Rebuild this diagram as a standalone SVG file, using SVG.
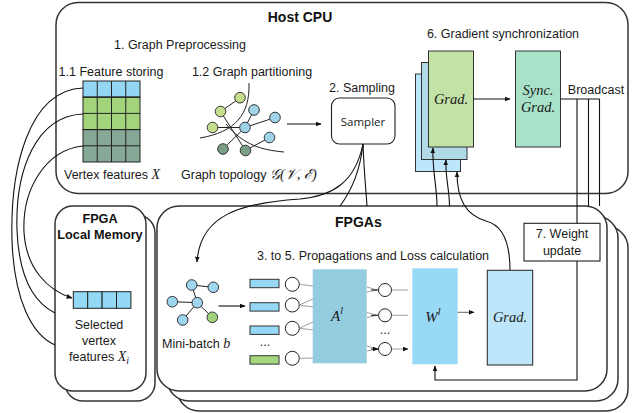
<svg xmlns="http://www.w3.org/2000/svg" width="640" height="413" viewBox="0 0 640 413">
  <defs>
    <marker id="ah" viewBox="0 0 10 10" refX="9" refY="5" markerWidth="6" markerHeight="6" orient="auto" markerUnits="userSpaceOnUse">
      <path d="M0,1 L10,5 L0,9 z" fill="#111"/>
    </marker>
    <style>
      .frame{fill:#fff;stroke:#333;stroke-width:1.5}
      .t{font-family:"Liberation Sans",Arial,sans-serif;font-size:12.5px;fill:#1a1a1a}
      .b{font-family:"Liberation Sans",Arial,sans-serif;font-weight:bold;fill:#111}
      .m{font-family:"Liberation Serif","DejaVu Serif",serif;font-style:italic;fill:#1a1a1a}
      .ln{fill:none;stroke:#111;stroke-width:1.1}
      .thin{fill:none;stroke:#888;stroke-width:0.8}
      .cell{stroke:#222;stroke-width:1}
      .nd{stroke:#333;stroke-width:1}
      .e{stroke:#222;stroke-width:1;fill:none}
    </style>
  </defs>

  <!-- Host CPU frame -->
  <g id="host-cpu">
    <rect class="frame" x="56" y="2.5" width="572" height="191" rx="22"/>
    <text class="b" x="300" y="22" font-size="14" text-anchor="middle">Host CPU</text>
    <text class="t" x="180" y="49" text-anchor="middle">1. Graph Preprocessing</text>
  </g>

  <!-- broadcast lines running down to the rear FPGA boards -->
  <g id="broadcast-rear" class="ln">
    <path d="M588.5,99 V206"/>
    <path d="M599.5,99 V206"/>
  </g>

  <!-- FPGA local memory stack -->
  <g id="local-memory">
    <rect class="frame" x="65" y="215" width="90" height="186" rx="18"/>
    <rect class="frame" x="55" y="206" width="91" height="185" rx="18"/>
    <text class="b" x="100" y="223" font-size="12.7" text-anchor="middle">FPGA</text>
    <text class="b" x="100" y="239" font-size="12.7" text-anchor="middle">Local Memory</text>
  </g>

  <!-- FPGA board stack -->
  <g id="fpgas">
    <rect class="frame" x="177" y="226" width="451" height="185" rx="22"/>
    <rect class="frame" x="167" y="216" width="451" height="185" rx="22"/>
    <rect class="frame" x="157" y="206" width="450" height="185" rx="22"/>
    <text class="b" x="335" y="227" font-size="14">FPGAs</text>
    <text class="t" x="373" y="260" text-anchor="middle">3. to 5. Propagations and Loss calculation</text>
  </g>

  <!-- 1.1 feature storing -->
  <g id="feature-storing">
    <text class="t" x="111" y="76" text-anchor="middle">1.1 Feature storing</text>
    <g class="cell">
      <rect x="83" y="81" width="57" height="16.2" fill="#93d6f3"/>
      <rect x="83" y="97.2" width="57" height="32.4" fill="#a3d47c"/>
      <rect x="83" y="129.6" width="57" height="32.4" fill="#86a896"/>
      <path d="M97.25,81 V162 M111.5,81 V162 M125.75,81 V162 M83,97.2 H140 M83,113.4 H140 M83,129.6 H140 M83,145.8 H140" fill="none"/>
    </g>
    <text class="t" x="64" y="179">Vertex features <tspan class="m" font-size="14">X</tspan></text>
  </g>

  <!-- 1.2 graph partitioning -->
  <g id="graph-partitioning">
    <text class="t" x="252" y="76" text-anchor="middle">1.2 Graph partitioning</text>
    <path class="e" d="M240,98 L220.5,111.5 M220.5,111.5 L245.5,150.5 M212.5,127.5 L245,127.5 M245,127.5 L254,110 M245,127.5 L275,117.5 M245,127.5 L223,149 M269.5,137.5 L245.5,150.5"/>
    <path class="e" d="M249,83 C250,115 235,132 200,138"/>
    <path class="e" d="M226,124 C243,145 262,150 284,152"/>
    <g class="nd">
      <circle cx="240" cy="97.7" r="5.3" fill="#c5df8e"/>
      <circle cx="220.5" cy="111.5" r="5.3" fill="#c5df8e"/>
      <circle cx="212.5" cy="127.5" r="5.3" fill="#c5df8e"/>
      <circle cx="254" cy="110" r="5.3" fill="#9ed3e8"/>
      <circle cx="275" cy="117.5" r="5.3" fill="#9ed3e8"/>
      <circle cx="245" cy="127.5" r="5.3" fill="#9ed3e8"/>
      <circle cx="269.5" cy="137.5" r="5.3" fill="#9ed3e8"/>
      <circle cx="223" cy="149" r="5.3" fill="#7a9e86"/>
      <circle cx="245.5" cy="150.5" r="5.3" fill="#7a9e86"/>
    </g>
    <text class="t" x="181" y="179">Graph topology <tspan class="m" font-size="14.5">𝒢(𝒱, ℰ)</tspan></text>
  </g>

  <!-- 2. sampling -->
  <g id="sampler">
    <text class="t" x="362" y="92" text-anchor="middle">2. Sampling</text>
    <rect x="331.5" y="98" width="63.5" height="46" rx="8" fill="#fff" stroke="#222" stroke-width="1.1"/>
    <text x="363" y="126" font-family="'Open Sans','Liberation Sans',sans-serif" font-size="11.5" fill="#1a1a1a" text-anchor="middle">Sampler</text>
  </g>

  <!-- 6. gradient synchronization -->
  <g id="gradient-stack">
    <text class="t" x="503" y="38" text-anchor="middle">6. Gradient synchronization</text>
    <rect x="415.5" y="74" width="45" height="97.5" fill="#bde6fb" stroke="#333" stroke-width="1"/>
    <rect x="421.5" y="62.5" width="45.5" height="97" fill="#b0dbe6" stroke="#333" stroke-width="1"/>
    <rect x="428.5" y="51" width="45" height="96" fill="#c3e2a6" stroke="#333" stroke-width="1"/>
    <text class="m" x="451" y="104" font-size="14.5" text-anchor="middle">Grad.</text>
  </g>
  <g id="sync-grad">
    <rect x="515.5" y="51" width="45" height="96" fill="#a8e2c8" stroke="#333" stroke-width="1"/>
    <text class="m" x="538" y="95" font-size="14.5" text-anchor="middle">Sync.</text>
    <text class="m" x="538" y="112" font-size="14.5" text-anchor="middle">Grad.</text>
    <text class="t" x="596" y="94" text-anchor="middle">Broadcast</text>
  </g>

  <!-- selected vertex features in local memory -->
  <g id="selected-features">
    <g class="cell" fill="#93d8f5">
      <rect x="73.3" y="291.7" width="14.4" height="16.6"/>
      <rect x="87.7" y="291.7" width="14.4" height="16.6"/>
      <rect x="102.1" y="291.7" width="14.4" height="16.6"/>
      <rect x="116.5" y="291.7" width="14.4" height="16.6"/>
    </g>
    <text class="t" x="99" y="329" text-anchor="middle">Selected</text>
    <text class="t" x="99" y="345" text-anchor="middle">vertex</text>
    <text class="t" x="99" y="361" text-anchor="middle">features <tspan class="m" font-size="14">X</tspan><tspan class="m" font-size="10" dy="3">i</tspan></text>
  </g>

  <!-- mini-batch -->
  <g id="mini-batch">
    <path class="e" d="M191.7,285 L213.3,287.3 M191.7,285 L197.3,302.7 M172.3,301.7 L197.3,302.7 M197.3,302.7 L182.7,320 M197.3,302.7 L212.3,317.3"/>
    <g class="nd">
      <circle cx="191.7" cy="285" r="5.3" fill="#9ed6f0"/>
      <circle cx="213.3" cy="287.3" r="5.3" fill="#9ed6f0"/>
      <circle cx="172.3" cy="301.7" r="5.3" fill="#9ed6f0"/>
      <circle cx="197.3" cy="302.7" r="5.3" fill="#9ed6f0"/>
      <circle cx="182.7" cy="320" r="5.3" fill="#9ed6f0"/>
      <circle cx="212.3" cy="317.3" r="5.3" fill="#9fd27a"/>
    </g>
    <text class="t" x="162" y="348">Mini-batch <tspan class="m" font-size="14">b</tspan></text>
  </g>

  <!-- input feature vectors and neurons -->
  <g id="inputs">
    <g stroke="#333" stroke-width="1">
      <rect x="250" y="279.3" width="29" height="8.4" fill="#95d7f5"/>
      <rect x="250" y="302.7" width="29" height="8.4" fill="#95d7f5"/>
      <rect x="250" y="326" width="29" height="8.4" fill="#95d7f5"/>
      <rect x="250" y="355.7" width="29" height="8.4" fill="#a5d77f"/>
    </g>
    <text class="t" x="265" y="346" font-size="10" text-anchor="middle">...</text>
    <g fill="#fff" stroke="#222" stroke-width="1">
      <circle cx="292.3" cy="284.3" r="7"/>
      <circle cx="292.3" cy="305" r="7"/>
      <circle cx="292.3" cy="328.3" r="7"/>
      <circle cx="292.3" cy="358.3" r="7"/>
    </g>
    <path class="thin" d="M299.3,284.3 L313,286 M299.3,305 L313,299 M299.3,305 L313,307 M299.3,328.3 L313,322 M299.3,328.3 L313,330 M299.3,358.3 L313,358"/>
  </g>

  <!-- A^l -->
  <g id="a-matrix">
    <rect x="312.7" y="269.3" width="54" height="94" fill="#93cddf"/>
    <text class="m" x="337" y="321" font-size="15" text-anchor="middle">A<tspan font-size="10" dy="-7">l</tspan></text>
  </g>

  <!-- hidden neurons -->
  <g id="hidden">
    <path class="thin" d="M367,287 L377,290 M367,292 L377,290 M367,312.5 L377,315.3 M367,317.5 L377,315.3 M367,346 L377,349 M367,351 L377,349"/>
    <path class="ln" d="M371,290 H378 M371,315.3 H378 M371,349 H378" marker-end="url(#ah)"/>
    <g fill="#fff" stroke="#222" stroke-width="1">
      <circle cx="385" cy="290" r="6.5"/>
      <circle cx="385" cy="315.3" r="6.5"/>
      <circle cx="385" cy="349" r="6.5"/>
    </g>
    <text class="t" x="385" y="334" font-size="10" text-anchor="middle">...</text>
    <path class="thin" d="M391.5,290 H408 M391.5,315.3 H408 M391.5,349 H408" stroke="#555" marker-end="url(#ah)"/>
  </g>

  <!-- W^l -->
  <g id="w-matrix">
    <rect x="412.3" y="268.3" width="45.4" height="96" fill="#98d9f6"/>
    <text class="m" x="433" y="322" font-size="15" text-anchor="middle">W<tspan font-size="10" dy="-7">l</tspan></text>
  </g>

  <!-- local gradient -->
  <g id="fpga-grad">
    <rect x="487.3" y="270.3" width="45.4" height="94.7" fill="#bde6fb" stroke="#333" stroke-width="1.1"/>
    <text class="m" x="510" y="322" font-size="14.5" text-anchor="middle">Grad.</text>
  </g>

  <!-- 7. weight update -->
  <g id="weight-update">
    <rect x="524" y="223.3" width="76" height="37.7" fill="#fff" stroke="#222" stroke-width="1.1"/>
    <text class="t" x="562" y="238" text-anchor="middle">7. Weight</text>
    <text class="t" x="562" y="255" text-anchor="middle">update</text>
  </g>

  <!-- connectors -->
  <g id="connectors" class="ln">
    <!-- feature rows to local memory -->
    <path d="M83,88 C28,90 10,170 12,240 C14,300 32,335 55,345"/>
    <path d="M83,114 C36,116 15,170 17,230 C19,280 35,303 55,313"/>
    <path d="M83,146 C45,150 22,190 24,232 C26,268 47,290 72,298" marker-end="url(#ah)"/>
    <!-- partitioned graph to sampler -->
    <path d="M287,124 H321" marker-end="url(#ah)"/>
    <!-- sampler outputs -->
    <path d="M363,144 C355,183 332,196 300,199 C240,203 200,215 197,262" marker-end="url(#ah)"/>
    <path d="M363,144 C360,172 352,190 340,206"/>
    <path d="M363,144 C364,172 366,190 367,206"/>
    <!-- mini-batch to feature vectors -->
    <path d="M218.5,306 H245" marker-end="url(#ah)"/>
    <!-- gradients up to host -->
    <path d="M437,206 C437,186 432,170 433,148" marker-end="url(#ah)"/>
    <path d="M449.5,206 C449.5,190 445,176 446,160" marker-end="url(#ah)"/>
    <path d="M510,270 C510,240 502,225 486,221 C466,215 457,200 457,172" marker-end="url(#ah)"/>
    <!-- W^l to loss gradient -->
    <path d="M457.7,312.3 H474" stroke="#555" stroke-width="0.9" marker-end="url(#ah)"/>
    <!-- gradient to sync -->
    <path d="M473.5,99 H510" marker-end="url(#ah)"/>
    <!-- broadcast -->
    <path d="M560.5,99 H599.5 M577,99 V223.3"/>
    <path d="M577,261 V380 H435 V366" marker-end="url(#ah)"/>
  </g>
</svg>
